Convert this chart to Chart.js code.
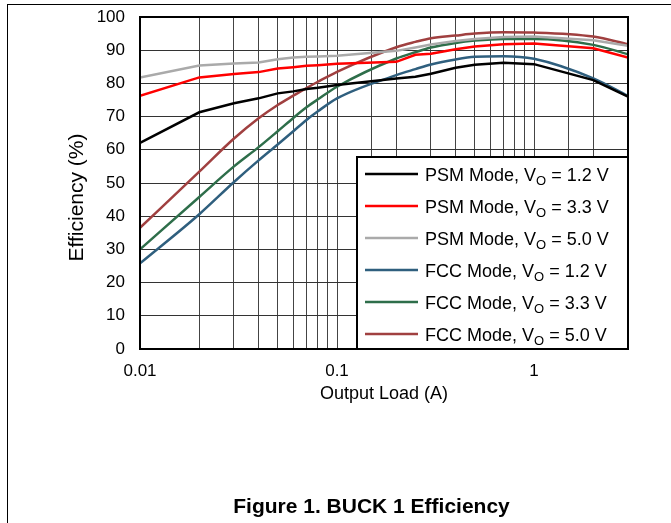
<!DOCTYPE html>
<html>
<head>
<meta charset="utf-8">
<script src="https://cdn.jsdelivr.net/npm/chart.js@4.4.1/dist/chart.umd.min.js"></script>
<style>
  html, body { margin: 0; padding: 0; background: #fff; }
  #frame { position: absolute; left: 7px; top: 4px; width: 700px; height: 600px;
           border-top: 1px solid #000; border-left: 1px solid #000; }
  #wrap { position: absolute; left: 0; top: 0; width: 671px; height: 523px; overflow: hidden; }
  canvas { position: absolute; left: 0; top: 0; }
</style>
</head>
<body>
<div id="wrap">
  <div id="frame"></div>
  <canvas id="chart" width="671" height="523"></canvas>
</div>
<script>
// Output load (A) for every measured point
const loads = [0.01, 0.02, 0.03, 0.04, 0.05, 0.06, 0.07, 0.08, 0.1, 0.2, 0.25, 0.3, 0.4, 0.5, 0.7, 1, 2, 3];

// Efficiency (%)
const psm12 = [62.1, 71.3, 74.0, 75.5, 77.0, 77.6, 78.3, 78.7, 79.5, 81.5, 82.0, 82.9, 84.7, 85.6, 86.2, 85.8, 81.0, 76.0];
const psm33 = [76.3, 81.8, 82.8, 83.4, 84.5, 84.9, 85.3, 85.5, 85.9, 86.5, 88.6, 88.9, 90.3, 91.1, 91.8, 92.0, 90.6, 87.8];
const psm50 = [81.8, 85.4, 86.0, 86.3, 87.3, 87.8, 88.0, 88.1, 88.3, 89.8, 90.8, 91.7, 92.8, 93.4, 94.0, 94.1, 93.0, 91.3];
const fcc12 = [25.8, 40.6, 50.3, 56.8, 61.6, 65.6, 69.0, 71.6, 75.5, 82.5, 84.3, 85.7, 87.2, 88.0, 88.2, 87.4, 81.5, 76.2];
const fcc33 = [30.0, 45.8, 55.0, 60.8, 65.6, 69.6, 72.8, 75.2, 79.0, 87.5, 89.4, 90.8, 92.2, 92.9, 93.4, 93.4, 91.6, 88.8];
const fcc50 = [36.5, 53.4, 63.4, 69.5, 73.5, 76.3, 78.6, 80.5, 83.5, 90.9, 92.5, 93.6, 94.4, 95.0, 95.4, 95.3, 94.1, 91.8];

const seriesLabels = [
    'PSM Mode, V_O = 1.2 V', 'PSM Mode, V_O = 3.3 V', 'PSM Mode, V_O = 5.0 V',
    'FCC Mode, V_O = 1.2 V', 'FCC Mode, V_O = 3.3 V', 'FCC Mode, V_O = 5.0 V'
];
const seriesValues = [psm12, psm33, psm50, fcc12, fcc33, fcc50];
const seriesColors = ['#000000', '#ff0000', '#aaaaaa', '#2f5f7e', '#2e6e4a', '#a04040'];

const yTicks = [0, 10, 20, 30, 40, 50, 60, 70, 80, 90, 100];
const xLabelled = [0.01, 0.1, 1];

const FONT = 'Arial, "Liberation Sans", sans-serif';

const datasets = seriesValues.map((vals, i) => ({
    label: seriesLabels[i],
    data: loads.map((x, j) => ({ x: x, y: vals[j] })),
    borderColor: seriesColors[i],
    backgroundColor: seriesColors[i],
    borderWidth: 2.5,
    pointRadius: 0,
    fill: false,
    cubicInterpolationMode: i >= 3 ? 'monotone' : 'default',
    tension: 0
}));

// frame round the plot, y title, caption and the boxed legend with subscripts
const decorations = {
    id: 'decorations',
    afterDatasetsDraw(chart) {
        const ctx = chart.ctx;
        const a = chart.chartArea;
        ctx.save();
        ctx.strokeStyle = '#000';
        ctx.lineWidth = 2;
        ctx.strokeRect(a.left, a.top, a.right - a.left, a.bottom - a.top);

        // legend box
        const w = 271, h = 192;
        const left = a.right - w, top = a.bottom - h;
        ctx.fillStyle = '#fff';
        ctx.fillRect(left, top, w, h);
        ctx.strokeRect(left, top, w, h);
        chart.data.datasets.forEach((ds, i) => {
            const cy = top + 17 + 32 * i;
            ctx.strokeStyle = ds.borderColor;
            ctx.lineWidth = 2.5;
            ctx.beginPath();
            ctx.moveTo(left + 8, cy);
            ctx.lineTo(left + 61, cy);
            ctx.stroke();

            const parts = ds.label.split('_O');
            let x = left + 68;
            const base = cy + 7;
            ctx.fillStyle = '#000';
            ctx.textBaseline = 'alphabetic';
            ctx.textAlign = 'left';
            ctx.font = '18px ' + FONT;
            ctx.fillText(parts[0], x, base);
            x += ctx.measureText(parts[0]).width;
            ctx.font = '13px ' + FONT;
            ctx.fillText('O', x, base + 4);
            x += ctx.measureText('O').width;
            ctx.font = '18px ' + FONT;
            ctx.fillText(parts[1], x, base);
        });

        // caption under the chart
        ctx.fillStyle = '#000';
        ctx.textAlign = 'center';
        ctx.textBaseline = 'middle';
        ctx.font = 'bold 21px ' + FONT;
        ctx.fillText('Figure 1. BUCK 1 Efficiency', 371.5, 507);

        // y axis title
        ctx.translate(77.5, 197.5);
        ctx.rotate(-Math.PI / 2);
        ctx.font = '21px ' + FONT;
        ctx.fillText('Efficiency (%)', 0, 0);
        ctx.restore();
    }
};

function noPadding(scale) {
    scale.paddingLeft = 0;
    scale.paddingRight = 0;
    scale.paddingTop = 0;
    scale.paddingBottom = 0;
}

new Chart(document.getElementById('chart').getContext('2d'), {
    type: 'line',
    data: { datasets: datasets },
    plugins: [decorations],
    options: {
        responsive: false,
        animation: false,
        devicePixelRatio: 1,
        layout: { padding: { left: 0, right: 43, top: 17, bottom: 114 } },
        plugins: {
            legend: { display: false },
            tooltip: { enabled: false }
        },
        scales: {
            x: {
                type: 'logarithmic',
                min: 0.01,
                max: 3,
                border: { display: false },
                grid: { color: '#444', lineWidth: 1, drawTicks: false },
                ticks: {
                    autoSkip: false,
                    maxRotation: 0,
                    padding: 12,
                    color: '#000',
                    font: { family: FONT, size: 17 },
                    callback: (value) => xLabelled.some(v => Math.abs(v - value) < 1e-9) ? String(value) : ''
                },
                title: {
                    display: true,
                    text: 'Output Load (A)',
                    color: '#000',
                    font: { family: FONT, size: 18 },
                    padding: { top: 0, bottom: 4 }
                },
                afterFit: (scale) => { scale.height = 60; noPadding(scale); }
            },
            y: {
                min: 0,
                max: 100,
                border: { display: false },
                grid: { color: '#333', lineWidth: 1, drawTicks: false },
                afterBuildTicks: (scale) => { scale.ticks = yTicks.map(v => ({ value: v })); },
                ticks: {
                    padding: 15,
                    color: '#000',
                    font: { family: FONT, size: 17 }
                },
                afterFit: (scale) => { scale.width = 140; noPadding(scale); }
            }
        }
    }
});
</script>
</body>
</html>
